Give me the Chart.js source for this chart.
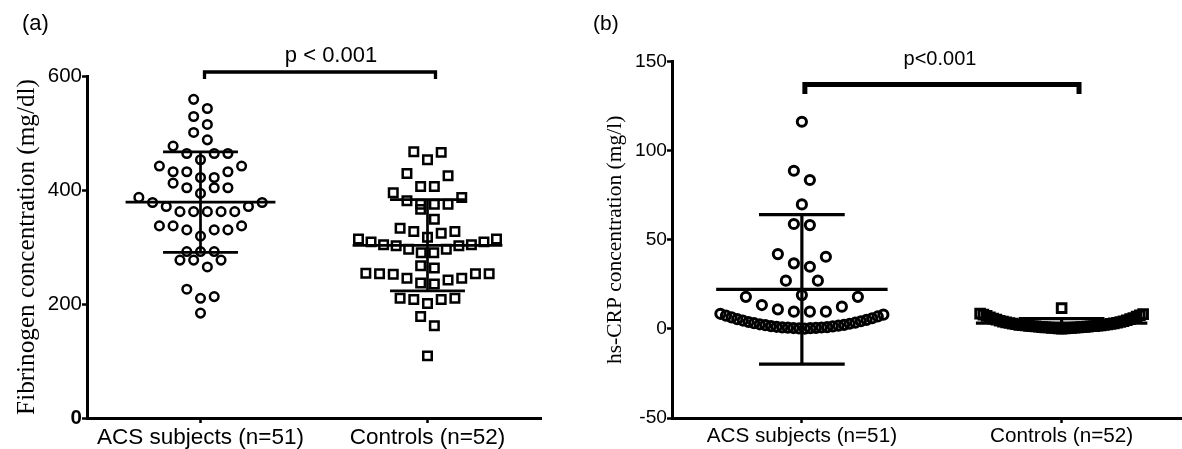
<!DOCTYPE html>
<html><head><meta charset="utf-8">
<script src="https://cdn.jsdelivr.net/npm/chart.js@4.4.1/dist/chart.umd.min.js"></script>
<style>
html,body{margin:0;padding:0;background:#fff;overflow:hidden;width:1182px;height:449px;position:relative;}
#ca{position:absolute;left:0;top:0;}
#cb{position:absolute;left:592px;top:0;}
</style></head><body>
<canvas id="ca" width="590" height="449"></canvas>
<canvas id="cb" width="620" height="449"></canvas>
<script>
// ---------- data ----------
const categories = ['ACS subjects (n=51)', 'Controls (n=52)'];
const panelLabels = ['(a)', '(b)'];
const yTitles = ['Fibrinogen concentration (mg/dl)', 'hs-CRP concentration (mg/l)'];
const pTexts = ['p < 0.001', 'p<0.001'];
const bracketLevels = [607, 137.2];

const fibrinogenTicks = [0, 200, 400, 600];
const fibrinogenACS = [559, 543, 529, 515, 501, 488, 477, 464, 464, 464, 453, 442, 432, 422, 412, 404, 422, 394,
  432, 432, 442, 404, 404, 387, 378, 371, 362, 362, 362, 362, 362, 371, 378, 337, 337, 330, 330, 330, 337, 319,
  292, 292, 292, 277, 277, 277, 265, 226, 213, 210, 184];
const fibrinogenControls = [467, 466, 453, 429, 425, 406, 406, 395, 387, 381, 375, 375, 375, 366, 348.5,
  333, 327, 327, 324, 317, 314, 309, 304, 302, 296, 290, 290, 296, 302, 304, 309, 314,
  267, 263, 254, 253, 253, 253, 252, 245, 245, 242, 237, 235, 210, 210, 208, 208, 201, 178, 162, 109];
const fibrinogenMean = [378.8, 303];
const fibrinogenSD = [88.2, 80];

const crpTicks = [-50, 0, 50, 100, 150];
const crpACS = [116.3, 88.8, 83.6, 69.9, 58.3, 58.9, 42.0, 40.5, 36.8, 34.9, 27.1, 27.1, 19.0, 18.0, 18.0,
  13.4, 12.5, 11.0, 9.7, 9.7, 9.7,
  0.2, 0.3, 0.4, 0.5, 0.6, 0.7, 0.8, 0.9, 1.0, 1.2, 1.4, 1.6, 1.8, 2.1, 2.3, 2.6, 2.9, 3.2, 3.5, 3.9,
  4.3, 4.7, 5.1, 5.5, 6.0, 6.5, 7.0, 7.5, 8.0, 8.5];
const crpControls = [0.2, 0.3, 0.3, 0.4, 0.5, 0.5, 0.6, 0.7, 0.8, 0.8, 0.9, 1.0, 1.0, 1.1, 1.2, 1.3, 1.4, 1.5,
  1.5, 1.6, 1.7, 1.8, 1.9, 2.0, 2.1, 2.2, 2.3, 2.5, 2.6, 2.8, 3.0, 3.1, 3.3, 3.5, 3.7, 3.9, 4.1, 4.3, 4.6, 4.9,
  5.2, 5.5, 5.8, 6.1, 6.5, 6.9, 7.3, 7.7, 8.0, 8.3, 8.6, 11.7];
const crpMean = [22.2, 3.2];
const crpSD = [42, 2.6];

// ---------- drawing ----------
const SANS = 'Liberation Sans, Arial, sans-serif';
const SERIF = 'Liberation Serif, Times New Roman, serif';
Chart.defaults.font.family = SANS;
Chart.defaults.color = '#000';

const decor = {
  id: 'decor',
  afterDraw(chart, args, o) {
    const {ctx} = chart, x = chart.scales.x, y = chart.scales.y;
    ctx.save();
    ctx.fillStyle = '#000'; ctx.strokeStyle = '#000';
    ctx.font = o.labelFont; ctx.textAlign = 'left'; ctx.textBaseline = 'alphabetic';
    ctx.fillText(o.label, o.labelX, o.labelY);
    const x0 = x.getPixelForValue(0) + o.bx0, x1 = x.getPixelForValue(1) + o.bx1;
    const yb = y.getPixelForValue(o.level);
    ctx.lineWidth = o.bw; ctx.lineJoin = 'miter'; ctx.lineCap = 'butt';
    ctx.beginPath();
    ctx.moveTo(x0, yb + o.drop); ctx.lineTo(x0, yb); ctx.lineTo(x1, yb); ctx.lineTo(x1, yb + o.drop);
    ctx.stroke();
    ctx.font = o.pFont; ctx.textAlign = 'center';
    ctx.fillText(o.p, (x0 + x1) / 2 + o.pdx, yb - o.pdy);
    ctx.restore();
  }
};

function errorBars(i, m, sd) {
  return [
    {x: i - 0.33, y: m}, {x: i + 0.33, y: m}, {x: i, y: null},
    {x: i, y: m - sd}, {x: i, y: m + sd}, {x: i, y: null},
    {x: i - 0.165, y: m + sd}, {x: i + 0.165, y: m + sd}, {x: i, y: null},
    {x: i - 0.165, y: m - sd}, {x: i + 0.165, y: m - sd}
  ];
}

function makeChart(el, c) {
  const styles = ['circle', 'rect'];
  const datasets = c.groups.map((vals, gi) => ({
    data: vals.map(v => ({x: gi, y: v})),
    pointStyle: styles[gi], pointRadius: c.radius[gi], pointBorderWidth: c.pbw,
    pointBackgroundColor: 'rgba(0,0,0,0)', pointBorderColor: '#000', showLine: false, order: 1
  }));
  c.means.forEach((m, gi) => datasets.push({
    data: errorBars(gi, m, c.sds[gi]), showLine: true, spanGaps: false, pointRadius: 0,
    borderColor: '#000', borderWidth: c.lw, borderCapStyle: 'butt', order: 0
  }));
  const grid = {display: true, drawOnChartArea: false, drawTicks: true, tickLength: 5, tickWidth: 2.5, tickColor: '#000'};
  const border = {display: true, color: '#000', width: 3};
  const chart = new Chart(el, {
    type: 'scatter',
    data: {datasets},
    options: {
      responsive: false, animation: false, events: [], devicePixelRatio: 1,
      layout: {padding: c.padding},
      plugins: {legend: {display: false}, tooltip: {enabled: false}, decor: c.decor},
      scales: {
        x: {
          type: 'linear', min: -0.5, max: 1.5,
          afterBuildTicks: ax => { ax.ticks = categories.map((n, i) => ({value: i})); },
          afterFit: ax => { ax.height = c.xHeight; },
          ticks: {callback: v => categories[v], autoSkip: false, maxRotation: 0, padding: c.xPad, color: '#000', font: {size: c.xFont}},
          grid, border
        },
        y: {
          type: 'linear', min: c.ticks[0], max: c.ticks[c.ticks.length - 1],
          afterBuildTicks: ax => { ax.ticks = c.ticks.map(v => ({value: v})); },
          afterFit: ax => { ax.width = c.yWidth; },
          ticks: {padding: 0, color: '#000', font: ctx => ({size: c.yFont, weight: (c.boldZero && ctx.tick && ctx.tick.value === 0) ? 'bold' : 'normal'})},
          grid, border,
          title: {display: true, text: c.yTitle, color: '#000', font: {family: SERIF, size: c.titleSize}, padding: {top: c.titlePad, bottom: 0}}
        }
      }
    },
    plugins: [decor]
  });
  // GraphPad-style column scatter: rows by value, lowest value in the centre
  const xs = chart.scales.x, ys = chart.scales.y;
  const unit = xs.getPixelForValue(1) - xs.getPixelForValue(0);
  c.groups.forEach((vals, gi) => {
    const pts = vals.map((v, i) => ({v, i, py: ys.getPixelForValue(v)})).sort((a, b) => a.v - b.v || a.i - b.i);
    const rows = []; let cur = null;
    pts.forEach(p => {
      if (!cur || cur.start - p.py >= c.rowPx) { cur = {start: p.py, items: []}; rows.push(cur); }
      cur.items.push(p);
    });
    const off = new Array(vals.length).fill(0);
    rows.forEach(r => {
      const n = r.items.length;
      let step = c.stepPx;
      if (n > 1 && (n - 1) * step > c.maxSpanPx) step = c.maxSpanPx / (n - 1);
      r.items.forEach((p, k) => {
        let slot;
        if (n % 2 === 1) { const m = Math.ceil(k / 2); slot = k === 0 ? 0 : (k % 2 === 1 ? m : -m); }
        else { const m = Math.floor(k / 2) + 0.5; slot = k % 2 === 0 ? m : -m; }
        off[p.i] = slot * step / unit;
      });
    });
    chart.data.datasets[gi].data = vals.map((v, i) => ({x: gi + off[i], y: v}));
  });
  chart.update('none');
  return chart;
}

makeChart(document.getElementById('ca'), {
  groups: [fibrinogenACS, fibrinogenControls], means: fibrinogenMean, sds: fibrinogenSD, ticks: fibrinogenTicks,
  radius: [4.3, 6.0], pbw: 2.5, lw: 2.7, rowPx: 14.5, stepPx: 13.7, maxSpanPx: 138,
  padding: {left: 0, top: 76, right: 49, bottom: 0}, yWidth: 87, xHeight: 31, xPad: 1,
  xFont: 22.5, yFont: 20.5, boldZero: true, yTitle: yTitles[0], titleSize: 25.2, titlePad: 12,
  decor: {label: panelLabels[0], labelX: 22, labelY: 30, labelFont: '22px ' + SANS,
    level: bracketLevels[0], bx0: 4, bx1: 8, bw: 3.3, drop: 7, p: pTexts[0], pFont: '22px ' + SANS, pdx: 11, pdy: 10.3}
});

makeChart(document.getElementById('cb'), {
  groups: [crpACS, crpControls], means: crpMean, sds: crpSD, ticks: crpTicks,
  radius: [4.6, 6.1], pbw: 3, lw: 3.2, rowPx: 15.3, stepPx: 16, maxSpanPx: 163,
  padding: {left: 0, top: 61.7, right: 20.5, bottom: 0}, yWidth: 80, xHeight: 31, xPad: 1,
  xFont: 20.7, yFont: 19.2, boldZero: false, yTitle: yTitles[1], titleSize: 21.5, titlePad: 10.1,
  decor: {label: panelLabels[1], labelX: 1, labelY: 30, labelFont: '21px ' + SANS,
    level: bracketLevels[1], bx0: 3, bx1: 17.4, bw: 5, drop: 9.5, p: pTexts[1], pFont: '20px ' + SANS, pdx: -2, pdy: 19.5}
});
</script>
</body></html>
